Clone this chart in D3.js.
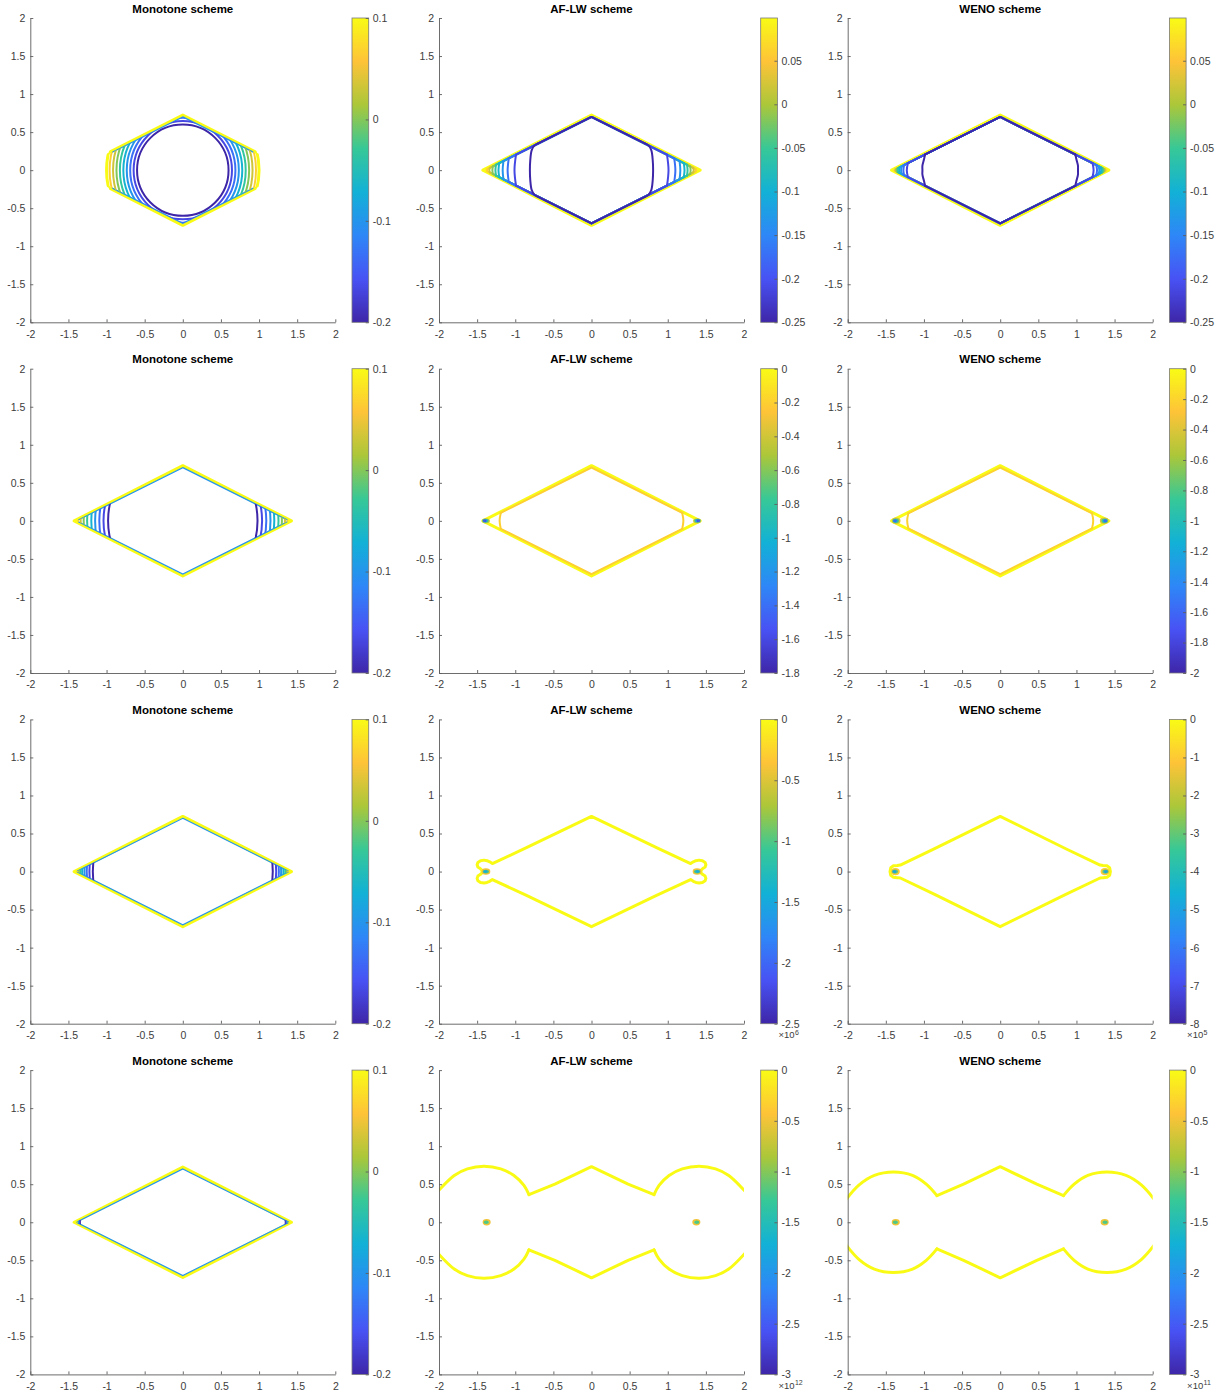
<!DOCTYPE html>
<html><head><meta charset="utf-8">
<script src="https://cdn.jsdelivr.net/npm/d3@7/dist/d3.min.js"></script>
<style>
html,body{margin:0;padding:0;background:#fff;}
svg text{font-family:"Liberation Sans",Arial,Helvetica,sans-serif;}
</style></head><body>
<svg id="chart" width="1225" height="1397"></svg>
<script>
// ================= DATA =================
const titles = ["Monotone scheme", "AF-LW scheme", "WENO scheme"];
const axisTicks = [-2, -1.5, -1, -0.5, 0, 0.5, 1, 1.5, 2];

// parula colormap key colours
const parulaStops = [0, 0.1429, 0.2857, 0.4286, 0.5714, 0.7143, 0.8571, 1];
const parulaColors = ["#3e26a8", "#4852f4", "#2e87f7", "#12b1d6", "#37c897", "#abc739", "#fec338", "#f9fb15"];

// colour limits of each panel (row-major), and colorbar ticks
const cbMin = [-0.2, -0.25, -0.25, -0.2, -1.8, -2, -0.2, -2.5, -8, -0.2, -3, -3];
const cbMax = [0.1, 0.099, 0.099, 0.1, 0, 0, 0.1, 0, 0, 0.1, 0, 0];
const cbExp = [null, null, null, null, null, null, null, 6, 5, null, 12, 11];
const cbTicksMono = [-0.2, -0.1, 0, 0.1];
const cbTicksT1 = [-0.25, -0.2, -0.15, -0.1, -0.05, 0, 0.05];
const cbTicksAflwT2 = [-1.8, -1.6, -1.4, -1.2, -1, -0.8, -0.6, -0.4, -0.2, 0];
const cbTicksWenoT2 = [-2, -1.8, -1.6, -1.4, -1.2, -1, -0.8, -0.6, -0.4, -0.2, 0];
const cbTicksAflwT3 = [-2.5, -2, -1.5, -1, -0.5, 0];
const cbTicksWenoT3 = [-8, -7, -6, -5, -4, -3, -2, -1, 0];
const cbTicksT4 = [-3, -2.5, -2, -1.5, -1, -0.5, 0];

// diamond front (outer = top contour, inner = lower contours)
const outerDiamond = [[0, 0.725], [1.425, 0], [0, -0.725], [-1.425, 0]];
const innerDiamond = [[0, 0.70], [1.395, 0], [0, -0.70], [-1.395, 0]];

// Monotone scheme: contour levels and radii of the centred circular arcs
const monoLevels = [-0.2, -0.167, -0.133, -0.1, -0.067, -0.033, 0, 0.033, 0.067];
const monoRadiiT1 = [0.60, 0.645, 0.69, 0.735, 0.78, 0.825, 0.87, 0.915, 0.96];
const monoRadiiT2 = [0.98, 1.04, 1.095, 1.15, 1.20, 1.255, 1.30, 1.34, 1.375];
const monoRadiiT3 = [1.18, 1.225, 1.26, 1.29, 1.32, 1.345, 1.365, 1.38, 1.39];
const monoRadiiT4 = [1.35, 1.36, 1.37, 1.375, 1.38, 1.385, 1.39, 1.392, 1.394];
const monoYellowRadiusT1 = 1.0;

// first time level, AF-LW and WENO: levels and right-hand arcs (top -> bottom)
const t1Levels = [-0.25, -0.211, -0.172, -0.134, -0.095, -0.056, -0.017, 0.021, 0.06];
const aflwArcsT1 = [
  [[0.70, 0.352], [0.75, 0.322], [0.785, 0.26], [0.803, 0.13], [0.808, 0], [0.803, -0.13], [0.785, -0.26], [0.75, -0.322], [0.70, -0.352]],
  [[0.99, 0.203], [1.01, 0], [0.99, -0.203]],
  [[1.085, 0.156], [1.10, 0], [1.085, -0.156]],
  [[1.155, 0.12], [1.165, 0], [1.155, -0.12]],
  [[1.21, 0.093], [1.22, 0], [1.21, -0.093]],
  [[1.252, 0.072], [1.26, 0], [1.252, -0.072]],
  [[1.293, 0.051], [1.30, 0], [1.293, -0.051]],
  [[1.333, 0.031], [1.34, 0], [1.333, -0.031]],
  [[1.365, 0.015], [1.37, 0], [1.365, -0.015]]
];
const wenoArcsT1 = [
  [[0.985, 0.206], [1.0, 0.14], [1.02, 0.06], [1.02, 0], [1.02, -0.06], [1.0, -0.14], [0.985, -0.206]],
  [[1.21, 0.093], [1.225, 0], [1.21, -0.093]],
  [[1.26, 0.068], [1.27, 0], [1.26, -0.068]],
  [[1.29, 0.053], [1.30, 0], [1.29, -0.053]],
  [[1.315, 0.04], [1.325, 0], [1.315, -0.04]],
  [[1.335, 0.03], [1.345, 0], [1.335, -0.03]],
  [[1.352, 0.021], [1.36, 0], [1.352, -0.021]],
  [[1.368, 0.013], [1.375, 0], [1.368, -0.013]],
  [[1.38, 0.007], [1.386, 0], [1.38, -0.007]]
];

// second time level
const t2Levels = [-0.2];
const aflwArcsT2 = [[[1.19, 0.105], [1.205, 0], [1.19, -0.105]]];
const wenoArcsT2 = [[[1.205, 0.098], [1.22, 0], [1.205, -0.098]]];
// small closed contours at the tips: [level, cx, cy, rx, ry] (mirrored to -cx)
const aflwBlobsT2 = [[-0.4, 1.385, 0, 0.04, 0.022], [-0.8, 1.39, 0, 0.028, 0.013], [-1.2, 1.395, 0, 0.017, 0.006], [-1.6, 1.40, 0, 0.008, 0.003]];
const wenoBlobsT2 = [[-0.4, 1.365, 0, 0.045, 0.03], [-0.8, 1.37, 0, 0.03, 0.018], [-1.2, 1.375, 0, 0.018, 0.009], [-1.6, 1.38, 0, 0.009, 0.004]];

// third time level: top contour (right half, top -> bottom) and tip blobs
const aflwYellowT3 = [[0, 0.725], [0.86, 0.31], [1.30, 0.105], [1.335, 0.128], [1.37, 0.143], [1.41, 0.15], [1.455, 0.143], [1.49, 0.12], [1.50, 0.09], [1.49, 0.06], [1.46, 0.04], [1.44, 0.02], [1.435, 0],
  [1.44, -0.02], [1.46, -0.04], [1.49, -0.06], [1.50, -0.09], [1.49, -0.12], [1.455, -0.143], [1.41, -0.15], [1.37, -0.143], [1.335, -0.128], [1.30, -0.105], [0.86, -0.31], [0, -0.725]];
const aflwBlobsT3 = [[-0.4, 1.385, 0, 0.045, 0.03], [-1.0, 1.385, 0, 0.028, 0.012], [-1.5, 1.39, 0, 0.014, 0.004]];
const wenoYellowT3 = [[0, 0.725], [0.86, 0.30], [1.31, 0.085], [1.35, 0.08], [1.40, 0.075], [1.435, 0.05], [1.445, 0], [1.435, -0.05], [1.40, -0.075], [1.35, -0.08], [1.31, -0.085], [0.86, -0.30], [0, -0.725]];
const wenoBlobsT3 = [[-1, 1.375, 0, 0.045, 0.035], [-3, 1.38, 0, 0.028, 0.015], [-5, 1.385, 0, 0.012, 0.005]];

// fourth time level: upper-left lobe arc and upper-left straight part (mirrored)
const aflwLobeT4 = [[-2.02, 0.40], [-1.80, 0.615], [-1.627, 0.702], [-1.41, 0.737], [-1.19, 0.702], [-1.017, 0.615], [-0.886, 0.484], [-0.82, 0.362]];
const aflwMidT4 = [[-0.82, 0.362], [-0.48, 0.50], [0, 0.73]];
const aflwBlobsT4 = [[-0.5, 1.375, 0, 0.04, 0.028], [-1.2, 1.38, 0, 0.022, 0.01]];
const wenoLobeT4 = [[-2.02, 0.30], [-1.85, 0.49], [-1.65, 0.615], [-1.40, 0.66], [-1.15, 0.615], [-0.97, 0.50], [-0.83, 0.35]];
const wenoMidT4 = [[-0.83, 0.35], [-0.48, 0.50], [0, 0.73]];
const wenoBlobsT4 = [[-0.5, 1.37, 0, 0.04, 0.028], [-1.2, 1.375, 0, 0.022, 0.01]];

// ================= PANELS =================
const panels = [
  {radii: monoRadiiT1, yellowR: monoYellowRadiusT1, ticks: cbTicksMono},
  {arcs: aflwArcsT1, levels: t1Levels, ticks: cbTicksT1},
  {arcs: wenoArcsT1, levels: t1Levels, ticks: cbTicksT1},
  {radii: monoRadiiT2, ticks: cbTicksMono},
  {arcs: aflwArcsT2, levels: t2Levels, blobs: aflwBlobsT2, ticks: cbTicksAflwT2},
  {arcs: wenoArcsT2, levels: t2Levels, blobs: wenoBlobsT2, ticks: cbTicksWenoT2},
  {radii: monoRadiiT3, ticks: cbTicksMono},
  {yellowHalf: aflwYellowT3, blobs: aflwBlobsT3, ticks: cbTicksAflwT3},
  {yellowHalf: wenoYellowT3, blobs: wenoBlobsT3, ticks: cbTicksWenoT3},
  {radii: monoRadiiT4, ticks: cbTicksMono},
  {lobe: aflwLobeT4, mid: aflwMidT4, blobs: aflwBlobsT4, ticks: cbTicksT4},
  {lobe: wenoLobeT4, mid: wenoMidT4, blobs: wenoBlobsT4, ticks: cbTicksT4}
];
panels.forEach((p, i) => { p.min = cbMin[i]; p.max = cbMax[i]; p.exp = cbExp[i]; });

// ================= DRAW =================
const svg = d3.select("#chart");
const defs = svg.append("defs");
const grad = defs.append("linearGradient").attr("id", "parula")
  .attr("x1", 0).attr("y1", 1).attr("x2", 0).attr("y2", 0);
parulaStops.forEach((s, k) => grad.append("stop").attr("offset", s).attr("stop-color", parulaColors[k]));
const parula = d3.scaleLinear().domain(parulaStops).range(parulaColors).interpolate(d3.interpolateRgb).clamp(true);

const colX = [30.3, 439, 847.7], rowY = [18, 368.7, 719.4, 1070.1];
const W = 305, H = 304.3, cbOff = 321.7, cbW = 16.7;
const FONT = "Liberation Sans, Arial, Helvetica, sans-serif";
const mx = pts => pts.map(d => [-d[0], d[1]]);
const my = pts => pts.map(d => [d[0], -d[1]]);
const closeHalf = half => half.concat(mx(half).reverse().slice(1, -1));

panels.forEach((p, i) => {
  const r = Math.floor(i / 3), c = i % 3, x0 = colX[c], y0 = rowY[r];
  const x = d3.scaleLinear([-2, 2], [x0, x0 + W]);
  const y = d3.scaleLinear([-2, 2], [y0 + H, y0]);
  const color = v => parula((v - p.min) / (p.max - p.min));
  const lw = v => (v >= p.max - 1e-9 ? 3 : 2);
  const line = d3.line().x(d => x(d[0])).y(d => y(d[1]));
  const lineC = d3.line().x(d => x(d[0])).y(d => y(d[1])).curve(d3.curveLinearClosed);
  const smooth = d3.line().x(d => x(d[0])).y(d => y(d[1])).curve(d3.curveCatmullRom.alpha(0.5));

  defs.append("clipPath").attr("id", "ax" + i).append("rect")
    .attr("x", x0).attr("y", y0).attr("width", W).attr("height", H);
  defs.append("clipPath").attr("id", "in" + i).append("path").attr("d", lineC(innerDiamond));
  defs.append("clipPath").attr("id", "out" + i).append("path").attr("d", lineC(outerDiamond));

  const g = svg.append("g").attr("clip-path", `url(#ax${i})`);
  const stroke = (sel, v) => sel.attr("fill", "none").attr("stroke", color(v)).attr("stroke-width", lw(v))
    .attr("stroke-linejoin", "round").attr("stroke-linecap", "round");
  const ellipse = (parent, cx, cy, rx, ry) => parent.append("ellipse")
    .attr("cx", x(cx)).attr("cy", y(cy)).attr("rx", x(rx) - x(0)).attr("ry", y(0) - y(ry));

  // top (yellow) contour
  if (p.yellowHalf) {
    stroke(g.append("path").attr("d", lineC(closeHalf(p.yellowHalf))), p.max);
  } else if (p.lobe) {
    [p.lobe, mx(p.lobe), my(p.lobe), my(mx(p.lobe))].forEach(l => stroke(g.append("path").attr("d", smooth(l)), p.max));
    const top = p.mid.concat(mx(p.mid).reverse().slice(1));
    [top, my(top)].forEach(l => stroke(g.append("path").attr("d", line(l)), p.max));
  } else {
    const dp = stroke(g.append("path").attr("d", lineC(outerDiamond)), p.max);
    if (p.yellowR) {
      ellipse(defs.append("clipPath").attr("id", "disk" + i), 0, 0, p.yellowR, p.yellowR);
      dp.attr("clip-path", `url(#disk${i})`);
      stroke(ellipse(g, 0, 0, p.yellowR, p.yellowR), p.max).attr("clip-path", `url(#out${i})`);
    }
  }

  // Monotone: circular contours clipped by the front
  if (p.radii) {
    const rmax = d3.max(p.radii);
    ellipse(defs.append("clipPath").attr("id", "edge" + i), 0, 0, rmax, rmax);
    g.append("path").attr("d", lineC(innerDiamond)).attr("clip-path", `url(#edge${i})`)
      .attr("fill", "none").attr("stroke", color(monoLevels[3])).attr("stroke-width", 1.2);
    p.radii.forEach((rr, k) => stroke(ellipse(g, 0, 0, rr, rr), monoLevels[k]).attr("clip-path", `url(#in${i})`));
  }

  // arcs with their diamond edges
  if (p.arcs) {
    p.arcs.map((pts, k) => ({v: p.levels[k], pts})).reverse().forEach(({v, pts}) => {
      const a = pts[0], b = pts[pts.length - 1];
      const topE = [[-a[0], a[1]], innerDiamond[0], a];
      const botE = [[-b[0], b[1]], innerDiamond[2], b];
      [topE, botE].forEach(e => stroke(g.append("path").attr("d", line(e)), v));
      [pts, mx(pts)].forEach(l => stroke(g.append("path").attr("d", smooth(l)), v));
    });
  }

  // small closed contours at the tips
  (p.blobs || []).forEach(([v, cx, cy, rx, ry]) => [cx, -cx].forEach(xx => stroke(ellipse(g, xx, cy, rx, ry), v)));

  // axes
  const styleAxis = sel => {
    sel.attr("font-size", 10.5).attr("font-family", FONT);
    sel.selectAll("path,line").attr("stroke", "#5c5c5c").attr("stroke-width", 0.9);
    sel.selectAll("text").attr("fill", "#3c3c3c");
  };
  svg.append("g").attr("transform", `translate(0,${y0 + H})`)
    .call(d3.axisBottom(x).tickValues(axisTicks).tickFormat(d => String(d)).tickSizeInner(-3).tickSizeOuter(0).tickPadding(8))
    .call(styleAxis);
  svg.append("g").attr("transform", `translate(${x0},0)`)
    .call(d3.axisLeft(y).tickValues(axisTicks).tickFormat(d => String(d)).tickSizeInner(-3).tickSizeOuter(0).tickPadding(5))
    .call(styleAxis);

  // title
  svg.append("text").attr("x", x0 + W / 2).attr("y", y0 - 5.5).attr("text-anchor", "middle")
    .attr("font-size", 11.5).attr("font-weight", "bold").attr("fill", "#000").text(titles[c]);

  // colorbar
  const cbX = x0 + cbOff;
  svg.append("rect").attr("x", cbX).attr("y", y0).attr("width", cbW).attr("height", H)
    .attr("fill", "url(#parula)").attr("stroke", "#7a7a7a").attr("stroke-width", 0.8);
  const cy = d3.scaleLinear([p.min, p.max], [y0 + H, y0]);
  const cbA = svg.append("g").attr("transform", `translate(${cbX + cbW},0)`)
    .call(d3.axisRight(cy).tickValues(p.ticks).tickFormat(d => String(d)).tickSizeInner(-3).tickSizeOuter(0).tickPadding(4))
    .call(styleAxis);
  cbA.select(".domain").remove();
  if (p.exp != null) {
    const off = 14.5;
    svg.append("text").attr("x", cbX + cbW + 1).attr("y", y0 + H + off)
      .attr("font-size", 9.5).attr("fill", "#3c3c3c").text("\u00d710");
    svg.append("text").attr("x", cbX + cbW + 17.5).attr("y", y0 + H + off - 3.5)
      .attr("font-size", 7).attr("fill", "#3c3c3c").text(String(p.exp));
  }
});
</script>
</body></html>
